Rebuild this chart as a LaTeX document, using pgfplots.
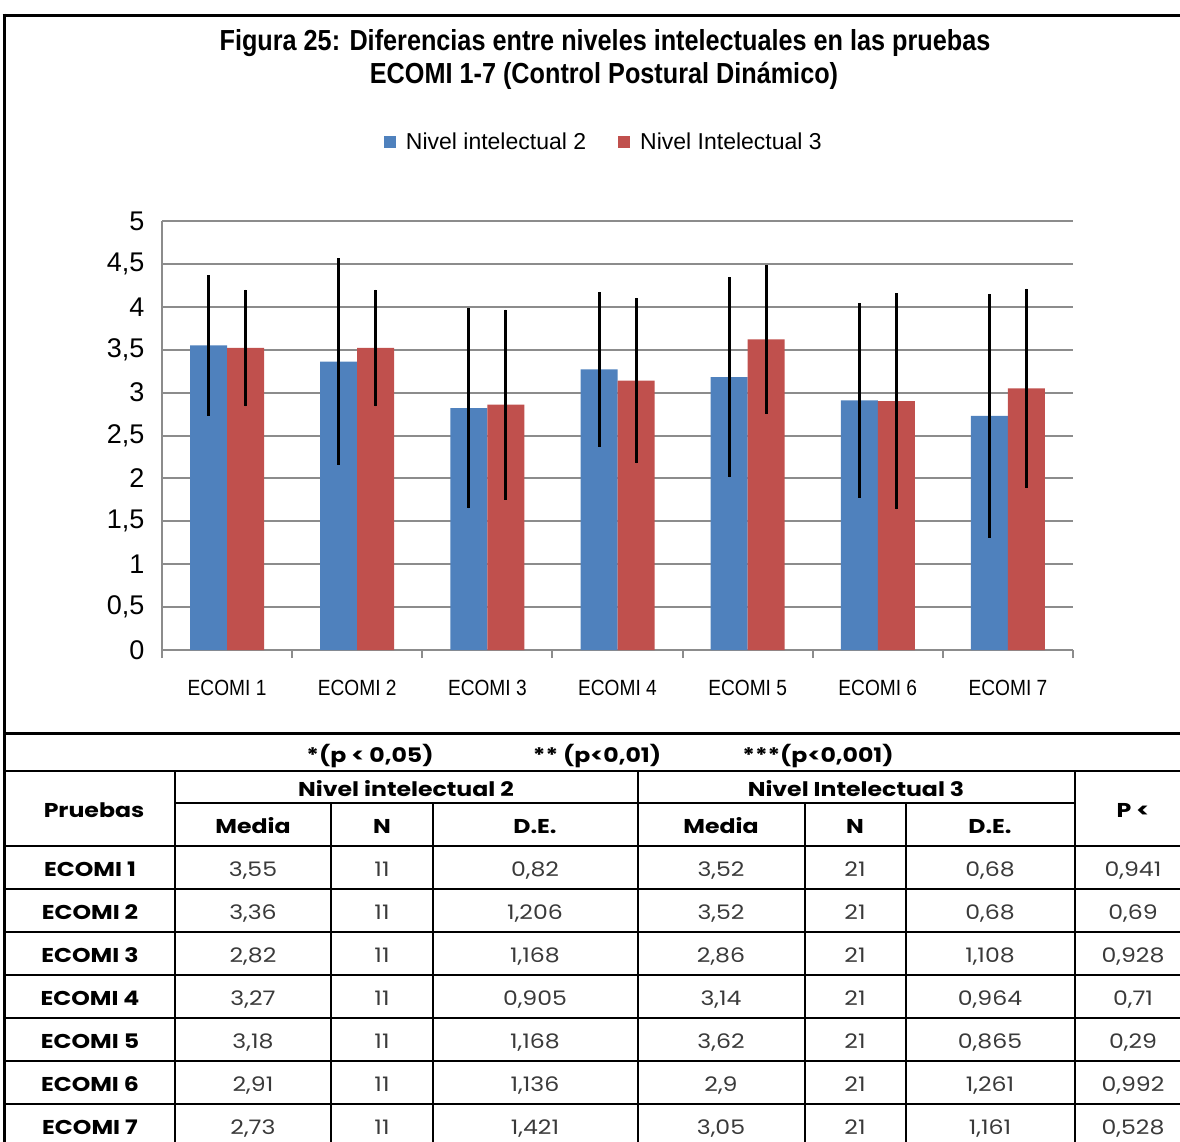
\documentclass[border=0pt]{standalone}
\usepackage{pgfplots}
\usepackage{pgfplotstable}
\pgfplotsset{compat=1.18}
\usepackage{fontspec}
\setmainfont{Liberation Sans}
\newfontfamily\cond[FakeStretch=0.87]{Liberation Sans}
\newfontfamily\tcond[FakeStretch=0.87]{Liberation Sans}
\newfontfamily\tabf[FakeStretch=1.18]{Poppins}
\definecolor{cblue}{HTML}{4F81BD}
\definecolor{cred}{HTML}{C0504D}
\definecolor{cgrid}{HTML}{8C8C8C}
\definecolor{ctxt}{HTML}{3A3A3A}

\pgfplotstableread{
x y e
0 3.55 0.82
1 3.36 1.206
2 2.82 1.168
3 3.27 0.905
4 3.18 1.168
5 2.91 1.136
6 2.73 1.421
}\tabA
\pgfplotstableread{
x y e
0 3.52 0.68
1 3.52 0.68
2 2.86 1.108
3 3.14 0.964
4 3.62 0.865
5 2.90 1.261
6 3.05 1.161
}\tabB

\newcommand\hd[3]{\node[anchor=base,font=\tabf\bfseries\fontsize{20}{20}\selectfont] at (#1,#2) {#3};}
\newcommand\nm[3]{\node[anchor=base,font=\tabf\fontsize{20}{20}\selectfont,text=ctxt] at (#1,#2) {#3};}
\newcommand\row[9]{%
  \hd{90}{#1+8}{#2}
  \nm{253}{#1+8}{#3}
  \nm{382}{#1+8}{#4}
  \nm{535}{#1+8}{#5}
  \nm{721}{#1+8}{#6}
  \nm{855}{#1+8}{#7}
  \nm{990}{#1+8}{#8}
  \nm{1133}{#1+8}{#9}}

\begin{document}
\begin{tikzpicture}
\begin{axis}[
  at={(162pt,-650pt)}, anchor=south west,
  scale only axis, width=911pt, height=429pt,
  xmin=-0.5, xmax=6.5, ymin=0, ymax=5,
  ybar=0pt, bar width=37pt,
  axis lines*=left,
  axis line style={-, cgrid, line width=2pt},
  ymajorgrids, grid style={cgrid, line width=2pt},
  ytick={0,0.5,...,5},
  xtick={0,...,6},
  xticklabels={ECOMI 1,ECOMI 2,ECOMI 3,ECOMI 4,ECOMI 5,ECOMI 6,ECOMI 7},
  major tick length=0pt,
  extra x ticks={-0.5,0.5,...,6.5},
  extra x tick labels={},
  extra x tick style={major tick length=8pt, tick align=outside, grid=none,
     tick style={cgrid, line width=2pt}},
  yticklabel style={font=\fontsize{27}{27}\selectfont, xshift=-14pt},
  xticklabel style={font=\cond\fontsize{22}{22}\selectfont, yshift=-27pt},
  /pgf/number format/use comma,
  /pgf/number format/assume math mode=true,
  legend columns=2,
  legend style={at={(0.485,1.184)}, anchor=center, draw=none, fill=none,
     font=\fontsize{23}{23}\selectfont,
     /tikz/every odd column/.append style={column sep=8pt},
     /tikz/every even column/.append style={column sep=30pt}},
  clip=false,
]
\addplot[fill=cblue, draw=none,
  legend image code/.code={\fill[cblue] (0pt,-6pt) rectangle (12pt,6pt);},
  error bars/.cd, y dir=both, y explicit,
  error bar style={black, line width=3pt}, error mark=none]
  table[x=x, y=y, y error=e] {\tabA};
\addplot[fill=cred, draw=none,
  legend image code/.code={\fill[cred] (0pt,-6pt) rectangle (12pt,6pt);},
  error bars/.cd, y dir=both, y explicit,
  error bar style={black, line width=3pt}, error mark=none]
  table[x=x, y=y, y error=e] {\tabB};
\legend{Nivel intelectual 2, Nivel Intelectual 3}
\end{axis}

\begin{scope}[x=1pt, y=-1pt]
\useasboundingbox (0,0) rectangle (1180,1141);
\node[anchor=base, font=\tcond\bfseries\fontsize{29}{29}\selectfont] at (605,50)
  {Figura 25: Diferencias entre niveles intelectuales en las pruebas};
\node[anchor=base, font=\tcond\bfseries\fontsize{29}{29}\selectfont] at (604,83)
  {ECOMI 1-7 (Control Postural Dinámico)};
% frame
\draw[line width=3pt] (2.5,15) -- (1182,15);
\draw[line width=3pt] (4,13.5) -- (4,1142);
\draw[line width=3pt] (4,733) -- (1182,733);
% table lines
\begin{scope}[line width=2pt]
\draw (4,771) -- (1182,771);
\draw (175,803) -- (1075,803);
\foreach \yy in {846,889,932,975,1018,1061,1104} \draw (4,\yy) -- (1182,\yy);
\foreach \xx in {175,638,1075} \draw (\xx,771) -- (\xx,1142);
\foreach \xx in {331,433,805,906} \draw (\xx,803) -- (\xx,1142);
\end{scope}
% header texts
\hd{370}{762}{*(p < 0,05)}
\hd{597}{762}{** (p<0,01)}
\hd{818}{762}{***(p<0,001)}
\hd{406}{796}{Nivel intelectual 2}
\hd{856}{796}{Nivel Intelectual 3}
\hd{94}{817}{Pruebas}
\hd{1133}{817}{P <}
\hd{253}{833}{Media}
\hd{382}{833}{N}
\hd{535}{833}{D.E.}
\hd{721}{833}{Media}
\hd{855}{833}{N}
\hd{990}{833}{D.E.}
\row{868}{ECOMI 1}{3,55}{11}{0,82}{3,52}{21}{0,68}{0,941}
\row{911}{ECOMI 2}{3,36}{11}{1,206}{3,52}{21}{0,68}{0,69}
\row{954}{ECOMI 3}{2,82}{11}{1,168}{2,86}{21}{1,108}{0,928}
\row{997}{ECOMI 4}{3,27}{11}{0,905}{3,14}{21}{0,964}{0,71}
\row{1040}{ECOMI 5}{3,18}{11}{1,168}{3,62}{21}{0,865}{0,29}
\row{1083}{ECOMI 6}{2,91}{11}{1,136}{2,9}{21}{1,261}{0,992}
\row{1126}{ECOMI 7}{2,73}{11}{1,421}{3,05}{21}{1,161}{0,528}
\end{scope}
\end{tikzpicture}
\end{document}
